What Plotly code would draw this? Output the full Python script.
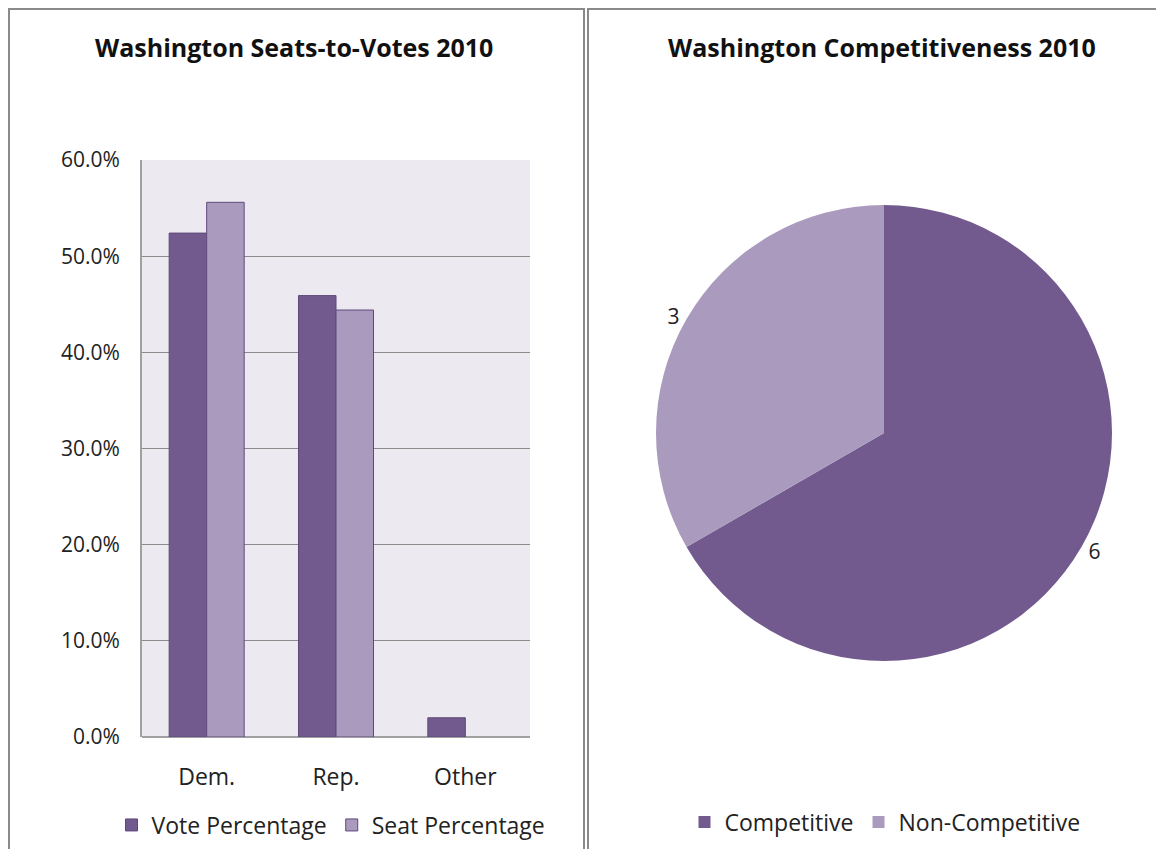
import plotly.graph_objects as go

parties = ["Dem.", "Rep.", "Other"]
vote_pct = [0.524, 0.459, 0.020]
seat_pct = [0.556, 0.444, 0.0]

comp_labels = ["Competitive", "Non-Competitive"]
comp_values = [6, 3]

dark = "#725A8F"
light = "#A99ABE"
edge = "#5E4A7A"
W, H = 1148, 841  # page has an 8px body margin


def px_x(x):
    return (x - 8) / W


def px_y(y):
    return 1 - (y - 8) / H


fig = go.Figure()

fig.add_trace(go.Bar(
    x=parties, y=vote_pct, name="Vote Percentage",
    marker=dict(color=dark, line=dict(color=edge, width=1)),
    legend="legend"
))
# no outline on the empty "Other" seat bar
fig.add_trace(go.Bar(
    x=parties, y=seat_pct, name="Seat Percentage",
    marker=dict(color=light, line=dict(color=edge, width=[1 if v > 0 else 0 for v in seat_pct])),
    legend="legend"
))

fig.add_trace(go.Pie(
    labels=comp_labels, values=comp_values,
    marker=dict(colors=[dark, light]),
    sort=False, direction="clockwise", rotation=0,
    textinfo="value", textposition="outside",
    textfont=dict(size=21, color="#222"),
    domain=dict(x=[px_x(656), px_x(1112)], y=[px_y(661), px_y(205)]),
    legend="legend2", showlegend=True
))

fig.update_layout(
    width=W, height=H,
    margin=dict(l=0, r=0, t=0, b=0, autoexpand=False),
    paper_bgcolor="white",
    plot_bgcolor="#ECE9F0",
    font=dict(family="Open Sans, Lato, sans-serif", size=20, color="#222"),
    barmode="group", bargap=0.42, bargroupgap=0,
    xaxis=dict(domain=[px_x(142), px_x(530)], showgrid=False,
               showline=False, ticks="", tickfont=dict(size=23),
               ticklabelstandoff=24),
    yaxis=dict(domain=[px_y(737), px_y(160)], range=[0, 0.6], dtick=0.1,
               tickformat=".1%", showgrid=True, gridcolor="#8C8C8C",
               gridwidth=1, showline=True, linecolor="#A0A0A0", linewidth=2,
               zeroline=True, zerolinecolor="#A0A0A0", zerolinewidth=2,
               tickfont=dict(size=21), ticks="", ticklabelstandoff=16),
    legend=dict(orientation="h", x=px_x(331), xanchor="center",
                y=px_y(825), yanchor="middle",
                font=dict(size=23), itemwidth=30, bgcolor="rgba(0,0,0,0)"),
    legend2=dict(orientation="h", x=px_x(885), xanchor="center",
                 y=px_y(822), yanchor="middle",
                 font=dict(size=23), itemwidth=30, bgcolor="rgba(0,0,0,0)"),
    annotations=[
        dict(text="<b>Washington Seats-to-Votes 2010</b>", x=px_x(294), y=px_y(47),
             xref="paper", yref="paper", showarrow=False,
             xanchor="center", yanchor="middle",
             font=dict(size=25, color="#111")),
        dict(text="<b>Washington Competitiveness 2010</b>", x=px_x(882), y=px_y(47),
             xref="paper", yref="paper", showarrow=False,
             xanchor="center", yanchor="middle",
             font=dict(size=25, color="#111")),
    ],
    shapes=[
        dict(type="rect", xref="paper", yref="paper",
             x0=px_x(9), x1=px_x(584), y0=px_y(880), y1=px_y(9),
             line=dict(color="#8A8A8A", width=2)),
        dict(type="rect", xref="paper", yref="paper",
             x0=px_x(588), x1=px_x(1180), y0=px_y(880), y1=px_y(9),
             line=dict(color="#8A8A8A", width=2)),
    ],
)

fig.write_html("out.html")
